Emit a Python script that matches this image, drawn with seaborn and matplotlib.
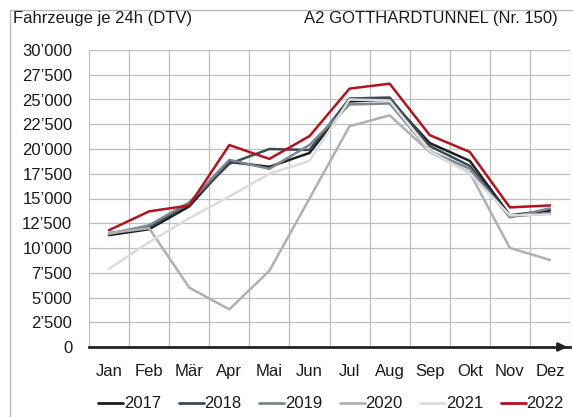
import matplotlib
matplotlib.use("Agg")
import matplotlib.pyplot as plt
import matplotlib.patches as mpatches
from matplotlib.ticker import FixedLocator, FuncFormatter
import seaborn as sns
import pandas as pd
import numpy as np

months = ["Jan", "Feb", "Mär", "Apr", "Mai", "Jun", "Jul", "Aug", "Sep", "Okt", "Nov", "Dez"]
years = ["2017", "2018", "2019", "2020", "2021", "2022"]
v2017 = [11300, 11900, 14200, 18700, 18200, 19600, 24800, 25000, 20600, 18800, 13300, 13800]
v2018 = [11500, 12100, 14500, 18500, 20000, 19900, 25100, 25200, 20300, 18300, 13200, 13500]
v2019 = [11400, 12300, 14600, 18900, 18000, 20400, 24500, 24600, 19800, 18000, 13100, 14000]
v2020 = [11500, 12000, 6000, 3800, 7700, 15000, 22300, 23400, 19700, 17600, 10000, 8800]
v2021 = [7900, 10600, 13000, 15200, 17500, 18800, 25000, 24900, 19800, 17500, 13300, 13400]
v2022 = [11800, 13700, 14300, 20400, 19000, 21300, 26100, 26600, 21400, 19700, 14100, 14300]
series = [v2017, v2018, v2019, v2020, v2021, v2022]
colors = ["#1e1e1e", "#3c4a54", "#7c8690", "#aeb0b2", "#dadcde", "#b3121f"]

rows = []
for y, vals in zip(years, series):
    for i, (m, v) in enumerate(zip(months, vals)):
        rows.append({"idx": i, "Monat": m, "Jahr": y, "DTV": v})
df = pd.DataFrame(rows)

sns.set_theme(style="white")
plt.rcParams["font.family"] = ["Liberation Sans", "DejaVu Sans"]

FS = 12
W, H = 573, 417
fig = plt.figure(figsize=(W / 100, H / 100), dpi=100)
ax = fig.add_axes([89 / W, 1 - 347 / H, (570 - 89) / W, (347 - 50) / H])

palette = dict(zip(years, colors))
sns.lineplot(data=df, x="idx", y="DTV", hue="Jahr", palette=palette, ax=ax,
             linewidth=1.8, legend=False, zorder=3)

ax.set_xlim(-0.5, 11.5)
ax.set_ylim(0, 30000)
ax.xaxis.set_major_locator(FixedLocator(range(12)))
ax.set_xticklabels(months)
ax.xaxis.set_minor_locator(FixedLocator(np.arange(-0.5, 12, 1.0)))
yt = np.arange(0, 30001, 2500)
ax.yaxis.set_major_locator(FixedLocator(yt))
ax.yaxis.set_major_formatter(FuncFormatter(
    lambda v, p: "0" if v == 0 else f"{int(v):,}".replace(",", "\u2019")))
ax.grid(False)
ax.grid(True, which="minor", axis="x", color="#bdbdbd", linewidth=0.9)
ax.grid(True, which="major", axis="y", color="#bdbdbd", linewidth=0.9)
ax.set_axisbelow(True)
for s in ["top", "right", "left"]:
    ax.spines[s].set_visible(False)
ax.spines["bottom"].set_color("#222222")
ax.spines["bottom"].set_linewidth(2.0)
ax.tick_params(axis="both", which="both", length=0, labelsize=FS, colors="#1a1a1a")
ax.tick_params(axis="y", pad=12)
ax.tick_params(axis="x", pad=12)
ax.set_xlabel("")
ax.set_ylabel("")

ax.annotate("", xy=(1.0, 0), xytext=(0.97, 0), xycoords="axes fraction",
            arrowprops=dict(arrowstyle="-|>", color="#222222", lw=2, mutation_scale=12),
            annotation_clip=False)

fig.text(13 / W, 1 - 19 / H, "Fahrzeuge je 24h (DTV)", ha="left", va="center",
         fontsize=FS, color="#1a1a1a")
fig.text(558 / W, 1 - 19 / H, "A2 GOTTHARDTUNNEL (Nr. 150)", ha="right", va="center",
         fontsize=FS, color="#1a1a1a")

fig.patches.append(mpatches.Rectangle((10 / W, -0.05), 1.2, 1 - 10 / H + 0.05,
                                      transform=fig.transFigure, fill=False,
                                      edgecolor="#b8b8b8", linewidth=1.0))

handles = [plt.Line2D([0], [0], color=c, lw=2) for c in colors]
fig.legend(handles, years, loc="center", bbox_to_anchor=(331 / W, 1 - 404 / H), ncol=6,
           frameon=False, fontsize=FS, handlelength=1.5, handletextpad=0.05,
           columnspacing=1.05, labelcolor="#1a1a1a")

fig.savefig("out.png", dpi=100, facecolor="white")
